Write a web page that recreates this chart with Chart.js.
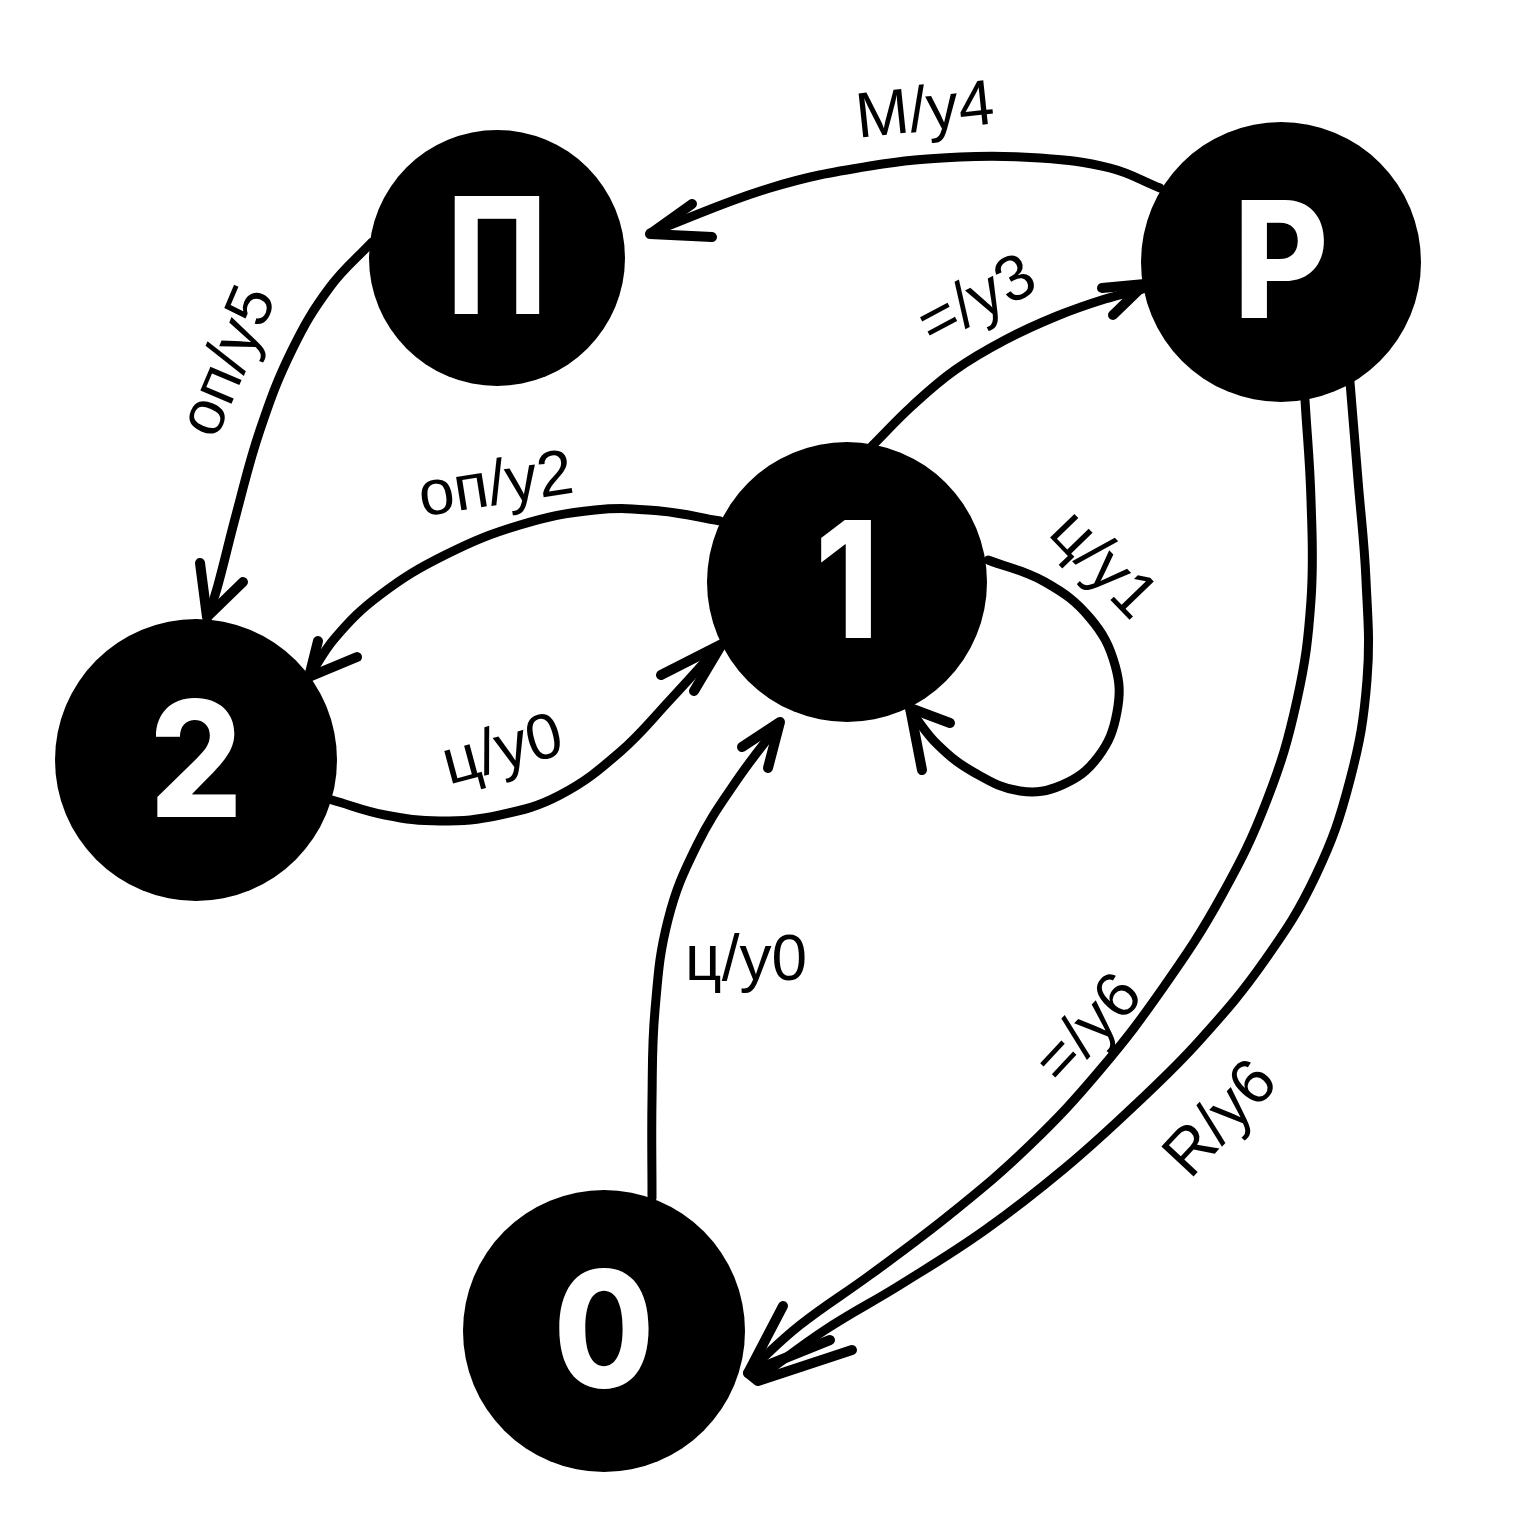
<!DOCTYPE html>
<html><head><meta charset="utf-8">
<script src="https://cdn.jsdelivr.net/npm/chart.js@4/dist/chart.umd.min.js"></script>
<style>html,body{margin:0;padding:0;background:#fff;}#wrap{width:1536px;height:1536px;}</style>
</head><body><div id="wrap"><canvas id="c" width="1536" height="1536"></canvas></div>
<script>
// ---- nodes (states) ----
const nodeNames = ['П', 'Р', '1', '2', '0'];
const nodeX = [497, 1281, 847, 196, 604];
const nodeY = [258, 262, 582, 760, 1331];
const nodeR = [128, 140, 140, 141, 141];

// ---- edges (transitions), as waypoints ----
const edgeP_to_Pi = [[1160,188],[1110,168],[1040,158],[960,157],[870,166],[770,188],[650,233]];
const edge1_to_P = [[872,446],[912,406],[955,370],[1005,340],[1057,316],[1105,299],[1143,289]];
const edgePi_to_2 = [[372,242],[330,287],[292,350],[260,430],[236,515],[218,585],[208,617]];
const edge1_to_2 = [[720,521],[660,511],[595,510],[520,525],[445,555],[380,595],[335,638],[309,677]];
const edge2_to_1 = [[332,800],[385,815],[440,821],[500,815],[560,795],[620,752],[670,700],[720,645]];
const edge1_loop = [[988,560],[1045,582],[1090,618],[1115,665],[1117,712],[1098,757],[1062,785],[1020,791],[975,773],[938,745],[910,710]];
const edge0_to_1 = [[652,1198],[652,1100],[655,1010],[668,920],[697,845],[737,780],[779,724]];
const edgeP_to_0a = [[1305,400],[1311,500],[1311,600],[1297,700],[1267,800],[1222,895],[1165,985],[1100,1070],[1030,1145],[953,1212],[870,1275],[800,1325],[752,1368]];
const edgeP_to_0b = [[1350,382],[1358,480],[1366,580],[1367,680],[1350,780],[1316,875],[1265,960],[1200,1040],[1135,1105],[1065,1168],[985,1230],[900,1285],[825,1330],[760,1377]];
const edgeLines = [edgeP_to_Pi, edge1_to_P, edgePi_to_2, edge1_to_2, edge2_to_1, edge1_loop, edge0_to_1, edgeP_to_0a, edgeP_to_0b];

// ---- arrowheads: [arm, tip, arm] ----
const arrowHeads = [
  [[692,204],[650,234],[712,237]],
  [[1102,288],[1145,284],[1113,315]],
  [[200,563],[207,617],[243,582]],
  [[318,641],[309,677],[357,657]],
  [[661,675],[722,644],[694,691]],
  [[950,723],[910,708],[922,770]],
  [[742,747],[780,722],[768,768]],
  [[783,1306],[748,1373],[830,1340]],
  [[852,1350],[758,1381],[748,1373]]
];

// ---- edge labels ----
const edgeLabels = ['М/у4', '=/у3', 'оп/у5', 'оп/у2', 'ц/у0', 'ц/у1', 'ц/у0', '=/у6', 'R/у6'];
const labelX = [925, 978, 230, 496, 503, 1102, 746, 1090, 1222];
const labelY = [113, 302, 362, 487, 752, 566, 962, 1030, 1120];
const labelAngle = [-6, -28, -67, -9, -15, 46, 0, -47, -47];

const toPts = arr => arr.map(p => ({x: p[0], y: p[1]}));

const datasets = [];
datasets.push({
  label: 'nodes',
  data: nodeX.map((x, i) => ({x, y: nodeY[i]})),
  pointRadius: nodeR,
  pointHoverRadius: nodeR,
  pointBackgroundColor: '#000',
  pointBorderColor: '#000',
  pointBorderWidth: 0,
  showLine: false
});
edgeLines.forEach((e, i) => datasets.push({
  label: 'edge' + i,
  data: toPts(e),
  showLine: true,
  tension: 0.4,
  borderColor: '#000',
  borderWidth: 9,
  borderCapStyle: 'round',
  borderJoinStyle: 'round',
  pointRadius: 0,
  pointHoverRadius: 0
}));
arrowHeads.forEach((a, i) => datasets.push({
  label: 'arrow' + i,
  data: toPts(a),
  showLine: true,
  tension: 0,
  borderColor: '#000',
  borderWidth: 10,
  borderCapStyle: 'round',
  borderJoinStyle: 'round',
  pointRadius: 0,
  pointHoverRadius: 0
}));

const textPlugin = {
  id: 'texts',
  afterDatasetsDraw(chart) {
    const ctx = chart.ctx, xs = chart.scales.x, ys = chart.scales.y;
    ctx.save();
    ctx.fillStyle = '#fff';
    ctx.font = '800 162px Inter';
    ctx.textAlign = 'center';
    ctx.textBaseline = 'alphabetic';
    nodeNames.forEach((n, i) => {
      const m = ctx.measureText(n);
      const cx = xs.getPixelForValue(nodeX[i]);
      const cy = ys.getPixelForValue(nodeY[i]);
      ctx.save();
      ctx.translate(cx, cy + (m.actualBoundingBoxAscent - m.actualBoundingBoxDescent) / 2 - 3);
      ctx.scale(n === 'П' ? 0.82 : 0.9, 1);
      ctx.fillText(n, 0, 0);
      ctx.restore();
    });
    ctx.fillStyle = '#000';
    ctx.font = '64px "Liberation Sans"';
    ctx.textBaseline = 'middle';
    edgeLabels.forEach((t, i) => {
      ctx.save();
      ctx.translate(xs.getPixelForValue(labelX[i]), ys.getPixelForValue(labelY[i]));
      ctx.rotate(labelAngle[i] * Math.PI / 180);
      ctx.fillText(t, 0, 0);
      ctx.restore();
    });
    ctx.restore();
  }
};

new Chart(document.getElementById('c'), {
  type: 'scatter',
  data: { datasets },
  options: {
    responsive: false,
    animation: false,
    devicePixelRatio: 1,
    layout: { padding: 0, autoPadding: false },
    events: [],
    plugins: { legend: { display: false }, tooltip: { enabled: false } },
    scales: {
      x: { type: 'linear', min: 0, max: 1536, display: false },
      y: { type: 'linear', min: 0, max: 1536, reverse: true, display: false }
    }
  },
  plugins: [textPlugin]
});
</script></body></html>
